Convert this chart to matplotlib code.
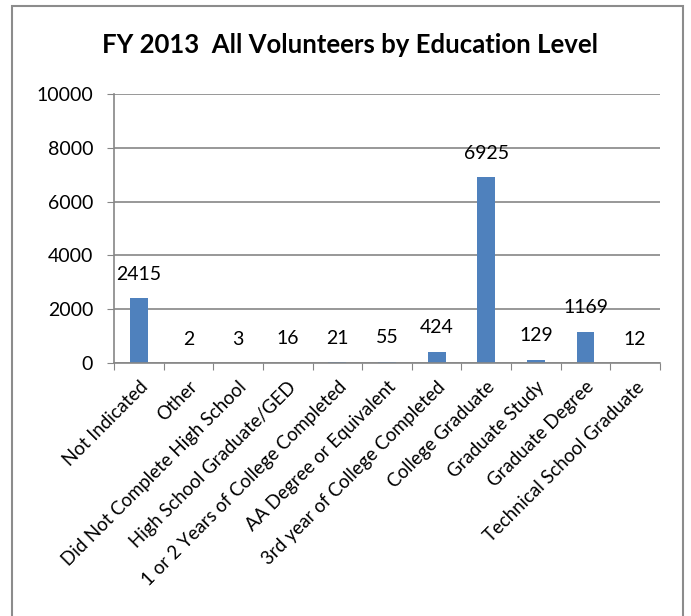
import matplotlib.pyplot as plt
from matplotlib.patches import Rectangle

categories = ['Not Indicated', 'Other', 'Did Not Complete High School',
              'High School Graduate/GED', '1 or 2 Years of College Completed',
              'AA Degree or Equivalent', '3rd year of College Completed',
              'College Graduate', 'Graduate Study', 'Graduate Degree',
              'Technical School Graduate']
counts = [2415, 2, 3, 16, 21, 55, 424, 6925, 129, 1169, 12]
yticks = [0, 2000, 4000, 6000, 8000, 10000]

plt.rcParams['font.family'] = ['Lato', 'DejaVu Sans']

W, H = 691, 616
fig = plt.figure(figsize=(W / 100, H / 100), dpi=100)
ax = fig.add_axes([114 / W, 1 - 363 / H, (660 - 114) / W, (363 - 94) / H])

# outer chart border (bottom runs past the image)
fig.patches.append(Rectangle((12 / W, -0.05), (683 - 12) / W, 1.05 - 6 / H,
                             transform=fig.transFigure, fill=False,
                             edgecolor='#8c8c8c', linewidth=1.5))

x = range(len(categories))
ax.bar(x, counts, width=0.36, color='#4F81BD')
for i, v in zip(x, counts):
    ax.annotate(str(v), (i, v), xytext=(0, 17), textcoords='offset points',
                ha='center', va='center', fontsize=14)

ax.set_xlim(-0.5, len(categories) - 0.5)
ax.set_ylim(0, 10000)
ax.set_yticks(yticks)
ax.set_yticklabels([str(t) for t in yticks], fontsize=14)
ax.set_xticks([i - 0.5 for i in range(len(categories) + 1)], minor=False)
ax.set_xticklabels([])
ax.set_xticks(list(x), minor=True)
ax.set_xticklabels(categories, minor=True, rotation=45, ha='right',
                   rotation_mode='anchor', fontsize=13.4)
ax.tick_params(axis='x', which='minor', length=0, pad=11)
ax.tick_params(axis='x', which='major', length=5, color='#868686', direction='out')
ax.tick_params(axis='y', length=5, color='#868686', pad=10)

ax.grid(axis='y', color='#868686', linewidth=1.2)
ax.set_axisbelow(True)
for s in ['top', 'right']:
    ax.spines[s].set_visible(False)
for s in ['left', 'bottom']:
    ax.spines[s].set_color('#868686')
    ax.spines[s].set_linewidth(1.2)

fig.text(350 / W, 1 - 45 / H, 'FY 2013  All Volunteers by Education Level',
         ha='center', va='center', fontsize=18.5, fontweight='bold')

fig.savefig('out.png', dpi=100)
